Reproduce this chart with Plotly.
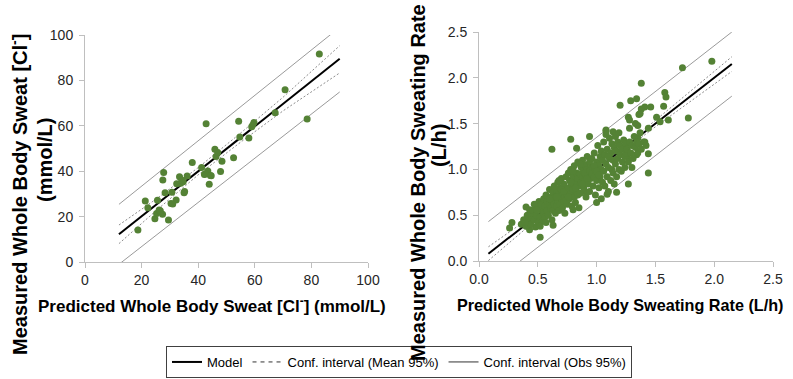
import plotly.graph_objects as go

# ---------------- Left panel: sweat chloride ----------------
cl_pred = [18.7, 21.3, 22.2, 24.7, 25.6, 25.3, 26.2, 27.4, 27.5, 27.8, 28.3, 29.5, 30.4, 30.7,
           32.2, 32.4, 33.4, 33.8, 34.7, 35.0, 36.1, 37.9, 41.2, 42.2, 42.8, 43.4, 43.9, 44.3,
           45.9, 46.3, 46.9, 47.9, 48.4, 52.5, 54.3, 54.7, 57.9, 58.9, 59.7, 59.3, 67.2, 70.7,
           78.5, 82.8, 26.6, 31.0, 34.3, 35.2, 42.4, 44.6]
cl_meas = [14.1, 26.9, 23.9, 19.1, 27.2, 21.4, 22.9, 21.0, 36.1, 39.4, 30.5, 18.5, 25.8, 30.7,
           27.3, 34.5, 37.6, 34.7, 35.4, 30.5, 37.9, 43.8, 41.6, 38.5, 60.9, 40.1, 34.2, 38.1,
           49.7, 46.5, 48.2, 39.9, 44.4, 45.9, 62.0, 55.1, 54.6, 59.6, 61.4, 60.4, 65.8, 75.9,
           63.0, 91.6, 22.6, 25.6, 36.0, 31.1, 38.8, 38.0]

cl_model_x = [12, 90]
cl_model_y = [12.2, 89.5]
cl_obs_x = [12, 90]
cl_obs_hi = [25.4, 103.4]
cl_obs_lo = [-1.0, 74.9]
cl_mean_x = [12, 25, 40, 55, 70, 90]
cl_mean_hi = [16.3, 27.6, 41.6, 56.8, 72.6, 95.3]
cl_mean_lo = [8.1, 22.5, 38.4, 52.8, 66.6, 83.3]

# ---------------- Right panel: sweating rate ----------------
sr_pred = [
    0.26, 0.28, 0.40, 0.38, 0.43, 0.48, 0.52, 0.63, 0.62, 0.78, 0.83, 0.94, 1.20, 1.29, 1.34,
    1.38, 1.73, 1.98, 1.58, 1.59, 1.57, 1.46, 1.41, 1.38, 1.37, 1.51, 1.54, 1.61, 1.78, 1.44,
    1.44, 1.44, 1.41, 1.27, 1.17, 1.09, 1.00, 0.91, 0.80, 1.27, 1.28, 1.28, 1.35, 1.35, 1.34,
    1.26, 1.08, 1.14,
    0.36, 0.38, 0.40, 0.41, 0.42, 0.43, 0.44, 0.45, 0.39, 0.44,
    0.46, 0.47, 0.48, 0.49, 0.50, 0.50, 0.51, 0.52, 0.53, 0.53, 0.54, 0.55, 0.55, 0.47, 0.52, 0.49,
    0.56, 0.56, 0.57, 0.58, 0.58, 0.59, 0.60, 0.60, 0.61, 0.61, 0.62, 0.62, 0.63, 0.63, 0.64,
    0.64, 0.65, 0.65, 0.57, 0.60,
    0.66, 0.66, 0.67, 0.67, 0.68, 0.68, 0.69, 0.69, 0.70, 0.70, 0.71, 0.71, 0.72, 0.72, 0.73,
    0.73, 0.74, 0.74, 0.75, 0.75, 0.66, 0.70, 0.72, 0.68, 0.74,
    0.76, 0.76, 0.77, 0.77, 0.78, 0.78, 0.79, 0.79, 0.80, 0.80, 0.81, 0.81, 0.82, 0.82, 0.83,
    0.83, 0.84, 0.84, 0.85, 0.85, 0.78, 0.80, 0.82, 0.84, 0.76,
    0.86, 0.86, 0.87, 0.87, 0.88, 0.88, 0.89, 0.89, 0.90, 0.90, 0.91, 0.91, 0.92, 0.92, 0.93,
    0.93, 0.94, 0.94, 0.95, 0.95, 0.88, 0.90, 0.92, 0.94, 0.86,
    0.96, 0.96, 0.97, 0.97, 0.98, 0.98, 0.99, 0.99, 1.00, 1.00, 1.01, 1.01, 1.02, 1.02, 1.03,
    1.03, 1.04, 1.04, 1.05, 1.05, 0.98, 1.00, 1.02, 1.04,
    1.06, 1.06, 1.07, 1.07, 1.08, 1.08, 1.09, 1.09, 1.10, 1.10, 1.11, 1.11, 1.12, 1.12, 1.13,
    1.13, 1.14, 1.14, 1.15, 1.15, 1.08, 1.10,
    1.16, 1.16, 1.17, 1.17, 1.18, 1.18, 1.19, 1.19, 1.20, 1.20, 1.21, 1.22, 1.22, 1.23, 1.24,
    1.24, 1.25, 1.25,
    1.26, 1.27, 1.28, 1.29, 1.30, 1.31, 1.32, 1.33, 1.34, 1.35, 1.36, 1.37, 1.38, 1.40, 1.42,
    1.30, 1.33, 1.36]
sr_meas = [
    0.36, 0.42, 0.59, 0.42, 0.34, 0.37, 0.26, 0.39, 1.22, 1.33, 1.23, 1.36, 1.70, 1.75, 1.77,
    1.94, 2.11, 2.18, 1.84, 1.79, 1.69, 1.68, 1.68, 1.66, 1.61, 1.57, 1.52, 1.54, 1.56, 1.45,
    0.96, 1.17, 1.30, 0.84, 0.75, 0.73, 0.64, 0.75, 0.56, 1.57, 1.54, 1.45, 1.48, 1.34, 1.16,
    1.14, 1.43, 1.41,
    0.40, 0.45, 0.38, 0.50, 0.44, 0.56, 0.40, 0.48, 0.42, 0.52,
    0.55, 0.45, 0.60, 0.50, 0.42, 0.58, 0.65, 0.48, 0.55, 0.62, 0.44, 0.52, 0.68, 0.62, 0.38, 0.56,
    0.60, 0.48, 0.72, 0.55, 0.65, 0.50, 0.62, 0.78, 0.58, 0.70, 0.45, 0.66, 0.55, 0.75, 0.62,
    0.82, 0.52, 0.70, 0.42, 0.68,
    0.60, 0.78, 0.66, 0.86, 0.55, 0.72, 0.62, 0.80, 0.68, 0.90, 0.58, 0.75, 0.65, 0.84, 0.70,
    0.52, 0.78, 0.92, 0.62, 0.72, 0.70, 0.78, 0.76, 0.88, 0.66,
    0.80, 0.96, 0.68, 0.88, 0.74, 1.00, 0.60, 0.84, 0.78, 0.92, 0.70, 1.04, 0.86, 0.64, 0.96,
    0.76, 0.90, 1.08, 0.82, 0.58, 0.86, 0.98, 0.80, 0.72, 0.70,
    0.95, 0.74, 1.02, 0.86, 0.92, 1.10, 0.80, 0.98, 0.88, 1.05, 0.70, 0.94, 1.00, 1.14, 0.84,
    0.96, 1.08, 0.76, 0.90, 1.02, 0.84, 0.96, 0.90, 0.98, 1.06,
    0.95, 1.12, 0.82, 1.02, 0.92, 1.18, 0.72, 1.00, 0.88, 1.08, 0.96, 1.26, 0.80, 1.04, 0.92,
    1.14, 1.00, 0.68, 1.10, 0.86, 1.04, 0.98, 0.94, 1.20,
    0.98, 1.30, 1.16, 0.82, 1.06, 1.38, 0.92, 1.22, 1.02, 0.76, 1.12, 1.34, 0.88, 1.18, 1.00,
    1.28, 0.96, 1.10, 1.24, 0.84, 1.42, 1.14,
    1.06, 1.36, 1.20, 0.92, 1.12, 1.30, 1.00, 1.40, 1.16, 1.26, 0.98, 1.22, 1.08, 1.32, 1.14,
    1.02, 1.28, 1.18,
    1.22, 1.08, 1.30, 1.18, 1.26, 1.12, 1.36, 1.24, 1.30, 1.18, 1.28, 1.40, 1.22, 1.30, 1.26,
    1.02, 1.50, 1.60]

sr_model_x = [0.08, 2.15]
sr_model_y = [0.08, 2.15]
sr_obs_x = [0.08, 2.15]
sr_obs_hi = [0.43, 2.50]
sr_obs_lo = [-0.27, 1.80]
sr_mean_x = [0.08, 0.5, 1.0, 1.5, 2.15]
sr_mean_hi = [0.155, 0.535, 1.02, 1.535, 2.23]
sr_mean_lo = [0.005, 0.465, 0.98, 1.465, 2.07]

legend_names = ["Model", "Conf. interval (Mean 95%)", "Conf. interval (Obs 95%)"]

GREEN = "#548235"
OBS_COLOR = "#9a9a9a"
MEAN_COLOR = "#6f6f6f"
FONT = "Liberation Sans, Arial, sans-serif"

fig = go.Figure()


def add_panel(xa, ya, px, py, mx, my, ox, ohi, olo, mnx, mhi, mlo):
    fig.add_trace(go.Scatter(x=ox, y=ohi, mode="lines", xaxis=xa, yaxis=ya,
                             line=dict(color=OBS_COLOR, width=1), showlegend=False,
                             hoverinfo="skip"))
    fig.add_trace(go.Scatter(x=ox, y=olo, mode="lines", xaxis=xa, yaxis=ya,
                             line=dict(color=OBS_COLOR, width=1), showlegend=False,
                             hoverinfo="skip"))
    fig.add_trace(go.Scatter(x=mnx, y=mhi, mode="lines", xaxis=xa, yaxis=ya,
                             line=dict(color=MEAN_COLOR, width=0.8, dash="2px,2px"),
                             showlegend=False, hoverinfo="skip"))
    fig.add_trace(go.Scatter(x=mnx, y=mlo, mode="lines", xaxis=xa, yaxis=ya,
                             line=dict(color=MEAN_COLOR, width=0.8, dash="2px,2px"),
                             showlegend=False, hoverinfo="skip"))
    fig.add_trace(go.Scatter(x=mx, y=my, mode="lines", xaxis=xa, yaxis=ya,
                             line=dict(color="black", width=2), showlegend=False))
    fig.add_trace(go.Scatter(x=px, y=py, mode="markers", xaxis=xa, yaxis=ya,
                             marker=dict(color=GREEN, size=7, line=dict(width=0)),
                             showlegend=False))


add_panel("x", "y", cl_pred, cl_meas, cl_model_x, cl_model_y, cl_obs_x, cl_obs_hi, cl_obs_lo,
          cl_mean_x, cl_mean_hi, cl_mean_lo)
add_panel("x2", "y2", sr_pred, sr_meas, sr_model_x, sr_model_y, sr_obs_x, sr_obs_hi, sr_obs_lo,
          sr_mean_x, sr_mean_hi, sr_mean_lo)

# legend-only entries
fig.add_trace(go.Scatter(x=[None], y=[None], mode="lines", name=legend_names[0],
                         line=dict(color="black", width=2)))
fig.add_trace(go.Scatter(x=[None], y=[None], mode="lines", name=legend_names[1],
                         line=dict(color="#333333", width=1, dash="4px,4px")))
fig.add_trace(go.Scatter(x=[None], y=[None], mode="lines", name=legend_names[2],
                         line=dict(color="#333333", width=1)))

W, H = 793, 379
axis_common = dict(showgrid=False, zeroline=False, showline=True, linecolor="#bfbfbf",
                   linewidth=1, ticks="outside", ticklen=5, tickcolor="#bfbfbf",
                   tickfont=dict(family=FONT, size=14, color="#262626"), fixedrange=True,
                   automargin=False)

fig.update_layout(
    width=W, height=H,
    margin=dict(l=0, r=0, t=0, b=0, autoexpand=False),
    paper_bgcolor="white", plot_bgcolor="white",
    font=dict(family=FONT, color="#262626"),
    xaxis=dict(domain=[85 / W, 368 / W], range=[0, 100], dtick=20, anchor="y", **axis_common),
    yaxis=dict(domain=[(H - 262) / H, (H - 35) / H], range=[0, 100], dtick=20, anchor="x",
               ticklabelstandoff=3, **axis_common),
    xaxis2=dict(domain=[479 / W, 773 / W], range=[0, 2.5], dtick=0.5, tickformat=".1f",
                anchor="y2", **axis_common),
    yaxis2=dict(domain=[(H - 261) / H, (H - 32) / H], range=[0, 2.5], dtick=0.5,
                tickformat=".1f", anchor="x2", ticklabelstandoff=3, **axis_common),
    showlegend=True,
    legend=dict(orientation="h", x=166 / W, xanchor="left", y=1 / H, yanchor="bottom",
                bordercolor="#404040", borderwidth=1, bgcolor="white",
                font=dict(family=FONT, size=13, color="black"), itemclick=False,
                traceorder="normal"),
)


def title_ann(text, xpx, ypx, size, angle=0):
    fig.add_annotation(text=text, x=xpx / W, y=(H - ypx) / H, xref="paper", yref="paper",
                       xanchor="center", yanchor="middle", showarrow=False, textangle=angle,
                       font=dict(family=FONT, size=size, color="black"))


title_ann("<b>Predicted Whole Body Sweat [Cl<sup>-</sup>] (mmol/L)</b>", 212, 305, 17)
title_ann("<b>Measured Whole Body Sweat [Cl<sup>-</sup>]</b>", 18, 195, 20, -90)
title_ann("<b>(mmol/L)</b>", 45, 160, 20, -90)
title_ann("<b>Predicted Whole Body Sweating Rate (L/h)</b>", 620, 305, 16.2)
title_ann("<b>Measured Whole Body Sweating Rate</b>", 418, 183, 20, -90)
title_ann("<b>(L/h)</b>", 439, 145, 20, -90)

fig.write_html("out.html", config={"displayModeBar": False},
               post_script="document.body.style.margin='0';document.body.style.overflow='hidden';")
